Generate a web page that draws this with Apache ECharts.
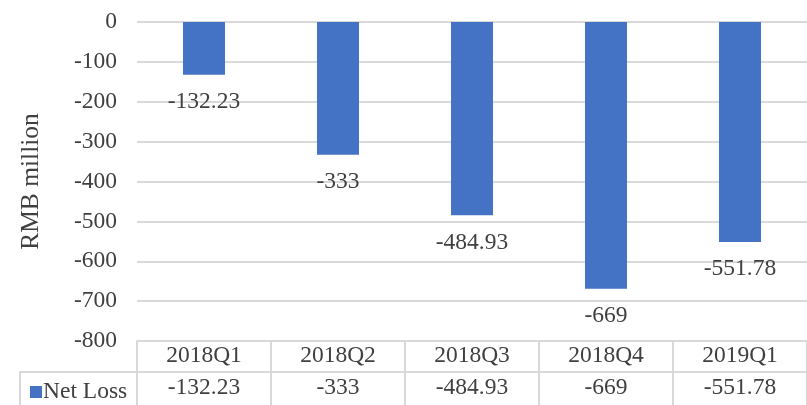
<!DOCTYPE html>
<html>
<head>
<meta charset="utf-8">
<script src="https://cdn.jsdelivr.net/npm/echarts@6/dist/echarts.min.js"></script>
<style>
  html, body { margin: 0; padding: 0; background: #fff; }
  #chart { width: 807px; height: 405px; }
</style>
</head>
<body>
<div id="chart"></div>
<script>
const categories = ['2018Q1', '2018Q2', '2018Q3', '2018Q4', '2019Q1'];
const netLoss = [-132.23, -333, -484.93, -669, -551.78];
const seriesName = 'Net Loss';

const font = 'Liberation Serif';
const textColor = '#404040';
const lineColor = '#D9D9D9';
const fs = 23.5;

let myChart = echarts.init(document.getElementById('chart'));
const option = {
  animation: false,
  grid: { left: 137, right: 0, top: 22, bottom: 64 },
  legend: {
    data: [seriesName],
    left: 25,
    top: 375,
    icon: 'rect',
    itemWidth: 12,
    itemHeight: 12,
    itemGap: 0,
    textStyle: { fontFamily: font, fontSize: fs, color: textColor, padding: [0, 0, 0, -4] }
  },
  xAxis: [
    {
      type: 'category',
      data: categories,
      position: 'bottom',
      axisLine: { onZero: false, lineStyle: { color: lineColor, width: 2 } },
      axisTick: { show: true, length: 64, lineStyle: { color: lineColor, width: 2 } },
      axisLabel: {
        margin: 15, verticalAlign: 'middle',
        fontFamily: font, fontSize: fs, color: textColor
      }
    },
    {
      type: 'category',
      data: categories,
      position: 'bottom',
      offset: 31,
      axisLine: { onZero: false, lineStyle: { color: lineColor, width: 2 } },
      axisTick: { show: false },
      axisLabel: {
        margin: 16, verticalAlign: 'middle',
        fontFamily: font, fontSize: fs, color: textColor,
        formatter: (v, i) => String(netLoss[i])
      }
    }
  ],
  yAxis: {
    type: 'value',
    min: -800,
    max: 0,
    interval: 100,
    name: 'RMB million',
    nameLocation: 'middle',
    nameRotate: 90,
    nameGap: 93,
    nameTextStyle: { fontFamily: font, fontSize: 25.5, color: textColor },
    axisLine: { show: false },
    axisTick: { show: false },
    splitLine: { lineStyle: { color: lineColor, width: 2 } },
    axisLabel: { margin: 20, fontFamily: font, fontSize: fs, color: textColor }
  },
  series: [
    {
      name: seriesName,
      type: 'bar',
      data: netLoss,
      barWidth: 42,
      itemStyle: { color: '#4472C4' },
      label: {
        show: true,
        position: 'bottom',
        distance: 15,
        fontFamily: font,
        fontSize: fs,
        color: textColor
      }
    }
  ],
  graphic: [
    { type: 'line', shape: { x1: 20, y1: 372, x2: 137, y2: 372 }, style: { stroke: lineColor, lineWidth: 2 } },
    { type: 'line', shape: { x1: 20, y1: 371, x2: 20, y2: 405 }, style: { stroke: lineColor, lineWidth: 2 } }
  ]
};
myChart.setOption(option);
</script>
</body>
</html>
